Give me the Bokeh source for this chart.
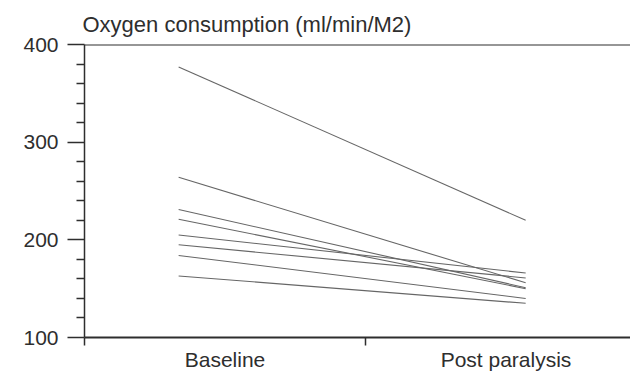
from bokeh.plotting import figure
from bokeh.models import FixedTicker, Range1d, Span, ColumnDataSource
from bokeh.embed import file_html
from bokeh.resources import INLINE

# Oxygen consumption per subject, before and after paralysis
categories = ["Baseline", "Post paralysis"]
baseline = [377, 264, 231, 221, 205, 195, 184, 163]
post_paralysis = [220, 156, 151, 150, 166, 161, 140, 135]
y_ticks = [100, 200, 300, 400]

FONT = "Liberation Sans"
INK = "#2e2e2e"

cat_pos = [1, 2]
left_px, right_px, top_px, bottom_px = 84, 630, 44, 337
x_end = 0.5 + (right_px - left_px) / 281.0

p = figure(
    width=630, height=378,
    x_range=Range1d(0.5, x_end), y_range=Range1d(100, 400),
    output_backend="svg", toolbar_location=None,
    min_border_left=left_px, min_border_right=0,
    min_border_top=top_px, min_border_bottom=378 - bottom_px,
)
p.outline_line_color = None
p.grid.visible = False
p.background_fill_color = "white"

# subject lines from the baseline column to the post-paralysis column
src = ColumnDataSource(dict(
    x0=[cat_pos[0] - 0.165] * len(baseline),
    x1=[cat_pos[1] + 0.07] * len(post_paralysis),
    y0=baseline, y1=post_paralysis,
))
p.segment("x0", "y0", "x1", "y1", source=src, line_color="#666666", line_width=1.1)

# top border line at 400
p.add_layout(Span(location=400, dimension="width", line_color=INK, line_width=2))

# x axis: category names, ticks between the columns
xa = p.xaxis[0]
xa.ticker = FixedTicker(ticks=cat_pos, minor_ticks=[0.5, 1.5, 2.5])
xa.major_label_overrides = {1: categories[0], 2: categories[1]}
xa.major_tick_out = 0
xa.major_tick_in = 0
xa.minor_tick_out = 8
xa.minor_tick_in = 0
xa.axis_line_width = 2
xa.axis_line_color = INK
xa.minor_tick_line_color = INK
xa.minor_tick_line_width = 1.5
xa.major_label_text_font = FONT
xa.major_label_text_font_size = "21px"
xa.major_label_text_color = INK
xa.major_label_standoff = 2

# y axis
ya = p.yaxis[0]
ya.ticker = FixedTicker(ticks=y_ticks,
                        minor_ticks=[v for v in range(100, 401, 20) if v not in y_ticks])
ya.major_tick_out = 17
ya.major_tick_in = 0
ya.minor_tick_out = 8
ya.minor_tick_in = 0
ya.axis_line_width = 1.5
ya.axis_line_color = INK
ya.major_tick_line_color = INK
ya.major_tick_line_width = 1.5
ya.minor_tick_line_color = INK
ya.minor_tick_line_width = 1.4
ya.major_label_text_font = FONT
ya.major_label_text_font_size = "21px"
ya.major_label_text_color = INK
ya.major_label_standoff = 9

p.title.text = "Oxygen consumption (ml/min/M2)"
p.title.text_font = FONT
p.title.text_font_size = "22px"
p.title.text_font_style = "normal"
p.title.text_color = INK
p.title.align = "left"
p.title.offset = -2
p.title.standoff = 15

open("out.html", "w").write(file_html(p, INLINE))
